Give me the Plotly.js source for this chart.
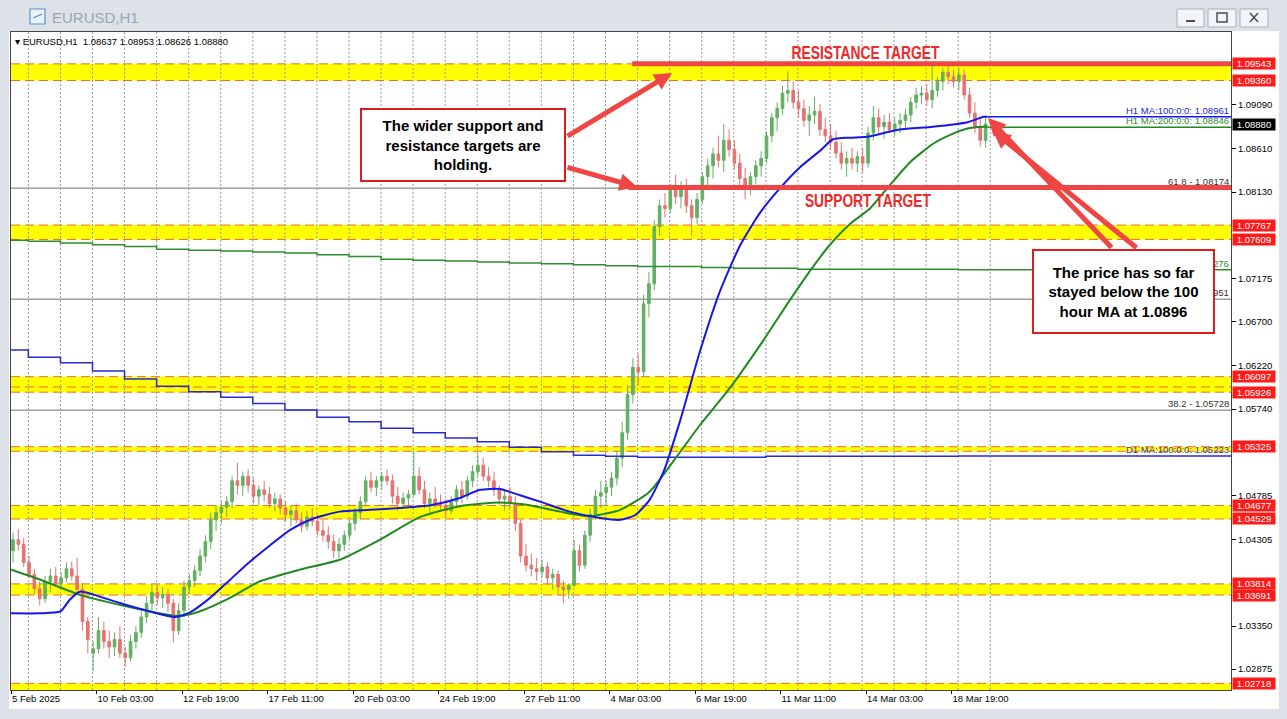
<!DOCTYPE html>
<html><head><meta charset="utf-8">
<script src="https://cdn.plot.ly/plotly-3.0.1.min.js"></script>
<style>html,body{margin:0;padding:0;background:#dde2e9;overflow:hidden}#chart{width:1287px;height:719px}</style>
</head><body><div id="chart"></div>
<script>
// ---------------- DATA ----------------
const symbolTitle = 'EURUSD,H1';
const lastBar = {open:1.08637, high:1.08953, low:1.08626, close:1.08880};

// 4-hour candles (bar index = hours since 5 Feb 11:00, weekends removed)
const candleOpen = [1.0418,1.0430,1.0425,
1.0405,1.0392,1.0376,1.0365,1.0384,1.0390,
1.0382,1.0388,1.0398,1.0390,1.0375,1.0340,
1.0305,1.0310,1.0330,1.0318,1.0312,1.0320,
1.0305,1.0300,1.0318,1.0328,1.0345,1.0360,
1.0372,1.0366,1.0370,1.0360,1.0330,1.0352,
1.0378,1.0385,1.0396,1.0412,1.0428,1.0452,
1.0460,1.0466,1.0472,1.0495,1.0490,1.0500,
1.0490,1.0478,1.0485,1.0480,1.0470,1.0475,
1.0465,1.0458,1.0462,1.0452,1.0445,1.0455,
1.0450,1.0440,1.0435,1.0428,1.0418,1.0425,
1.0435,1.0448,1.0460,1.0472,1.0495,1.0488,
1.0495,1.0500,1.0495,1.0478,1.0470,1.0476,
1.0480,1.0500,1.0485,1.0470,1.0475,1.0470,
1.0468,1.0462,1.0472,1.0485,1.0478,1.0495,
1.0505,1.0512,1.0500,1.0495,1.0485,1.0475,
1.0478,1.0470,1.0448,1.0412,1.0402,1.0398,
1.0395,1.0400,1.0388,1.0392,1.0378,1.0375,
1.0380,1.0418,1.0402,1.0435,1.0458,1.0478,
1.0482,1.0488,1.0498,1.0520,1.0548,1.0590,
1.0620,1.0615,1.0690,1.0712,1.0775,1.0798,
1.0795,1.0815,1.0808,1.0820,1.0798,1.0785,
1.0805,1.0830,1.0842,1.0855,1.0848,1.0870,
1.0860,1.0845,1.0828,1.0818,1.0830,1.0842,
1.0850,1.0875,1.0895,1.0905,1.0922,1.0925,
1.0912,1.0905,1.0892,1.0898,1.0902,1.0882,
1.0875,1.0868,1.0856,1.0845,1.0850,1.0845,
1.0852,1.0845,1.0878,1.0895,1.0885,1.0890,
1.0882,1.0888,1.0892,1.0898,1.0912,1.0920,
1.0922,1.0915,1.0925,1.0935,1.0945,1.0940,
1.0935,1.0942,1.0920,1.0900,1.0885,1.0870];
const candleHigh = [1.0438,1.0442,1.0432,
1.0412,1.0398,1.0384,1.0390,1.0398,1.0400,
1.0394,1.0405,1.0406,1.0410,1.0382,1.0345,
1.0318,1.0345,1.0340,1.0330,1.0328,1.0335,
1.0312,1.0325,1.0335,1.0352,1.0368,1.0382,
1.0380,1.0378,1.0376,1.0365,1.0360,1.0385,
1.0392,1.0402,1.0420,1.0435,1.0460,1.0468,
1.0472,1.0478,1.0500,1.0515,1.0505,1.0508,
1.0498,1.0490,1.0495,1.0488,1.0482,1.0480,
1.0472,1.0468,1.0470,1.0460,1.0462,1.0465,
1.0458,1.0452,1.0445,1.0436,1.0432,1.0440,
1.0452,1.0465,1.0478,1.0500,1.0505,1.0500,
1.0505,1.0508,1.0502,1.0488,1.0482,1.0485,
1.0528,1.0510,1.0495,1.0482,1.0488,1.0480,
1.0475,1.0478,1.0490,1.0495,1.0500,1.0512,
1.0525,1.0520,1.0510,1.0505,1.0490,1.0485,
1.0488,1.0478,1.0452,1.0425,1.0415,1.0410,
1.0408,1.0405,1.0398,1.0396,1.0385,1.0382,
1.0430,1.0425,1.0440,1.0465,1.0485,1.0495,
1.0495,1.0505,1.0528,1.0560,1.0600,1.0630,
1.0635,1.0700,1.0725,1.0782,1.0805,1.0812,
1.0822,1.0832,1.0825,1.0828,1.0805,1.0812,
1.0835,1.0850,1.0862,1.0875,1.0888,1.0882,
1.0870,1.0855,1.0840,1.0835,1.0848,1.0858,
1.0880,1.0900,1.0912,1.0930,1.0946,1.0935,
1.0925,1.0915,1.0908,1.0918,1.0910,1.0895,
1.0888,1.0880,1.0868,1.0858,1.0862,1.0858,
1.0862,1.0885,1.0908,1.0905,1.0898,1.0900,
1.0895,1.0900,1.0905,1.0918,1.0928,1.0930,
1.0932,1.0954,1.0940,1.0950,1.0955,1.0948,
1.0950,1.0948,1.0928,1.0912,1.0895,1.0895];
const candleLow = [1.0405,1.0418,1.0400,
1.0388,1.0370,1.0358,1.0360,1.0372,1.0378,
1.0376,1.0383,1.0385,1.0370,1.0330,1.0305,
1.0285,1.0305,1.0310,1.0300,1.0302,1.0300,
1.0290,1.0296,1.0310,1.0322,1.0338,1.0352,
1.0358,1.0355,1.0350,1.0317,1.0325,1.0345,
1.0370,1.0378,1.0390,1.0405,1.0420,1.0440,
1.0448,1.0455,1.0465,1.0480,1.0478,1.0482,
1.0470,1.0468,1.0472,1.0465,1.0462,1.0458,
1.0450,1.0445,1.0448,1.0438,1.0440,1.0445,
1.0435,1.0428,1.0420,1.0410,1.0410,1.0418,
1.0430,1.0440,1.0452,1.0468,1.0482,1.0478,
1.0485,1.0490,1.0470,1.0462,1.0465,1.0468,
1.0478,1.0480,1.0465,1.0460,1.0465,1.0462,
1.0455,1.0458,1.0465,1.0470,1.0474,1.0488,
1.0500,1.0495,1.0488,1.0478,1.0468,1.0462,
1.0465,1.0440,1.0405,1.0395,1.0390,1.0385,
1.0388,1.0380,1.0375,1.0370,1.0360,1.0365,
1.0378,1.0395,1.0398,1.0428,1.0452,1.0465,
1.0468,1.0478,1.0490,1.0510,1.0540,1.0580,
1.0600,1.0610,1.0675,1.0705,1.0765,1.0785,
1.0790,1.0800,1.0795,1.0790,1.0765,1.0778,
1.0800,1.0818,1.0828,1.0840,1.0835,1.0852,
1.0838,1.0820,1.0805,1.0810,1.0822,1.0830,
1.0845,1.0868,1.0880,1.0898,1.0912,1.0905,
1.0895,1.0885,1.0875,1.0888,1.0875,1.0868,
1.0860,1.0850,1.0838,1.0830,1.0838,1.0835,
1.0835,1.0840,1.0870,1.0878,1.0872,1.0878,
1.0875,1.0878,1.0882,1.0890,1.0905,1.0910,
1.0908,1.0905,1.0918,1.0925,1.0932,1.0928,
1.0925,1.0915,1.0895,1.0878,1.0863,1.0862];
const candleClose = [1.0430,1.0425,1.0405,
1.0392,1.0376,1.0365,1.0384,1.0390,1.0382,
1.0388,1.0398,1.0390,1.0375,1.0340,1.0320,
1.0310,1.0330,1.0318,1.0312,1.0320,1.0305,
1.0300,1.0318,1.0328,1.0345,1.0360,1.0372,
1.0366,1.0370,1.0360,1.0330,1.0352,1.0378,
1.0385,1.0396,1.0412,1.0428,1.0452,1.0460,
1.0466,1.0472,1.0495,1.0490,1.0500,1.0490,
1.0478,1.0485,1.0480,1.0470,1.0475,1.0465,
1.0458,1.0462,1.0452,1.0445,1.0455,1.0450,
1.0440,1.0435,1.0428,1.0418,1.0425,1.0435,
1.0448,1.0460,1.0472,1.0495,1.0488,1.0495,
1.0500,1.0495,1.0478,1.0470,1.0476,1.0480,
1.0500,1.0485,1.0470,1.0475,1.0470,1.0468,
1.0462,1.0472,1.0485,1.0478,1.0495,1.0505,
1.0512,1.0500,1.0495,1.0485,1.0475,1.0478,
1.0470,1.0448,1.0412,1.0402,1.0398,1.0395,
1.0400,1.0388,1.0392,1.0378,1.0375,1.0380,
1.0418,1.0402,1.0435,1.0458,1.0478,1.0482,
1.0488,1.0498,1.0520,1.0548,1.0590,1.0620,
1.0615,1.0690,1.0712,1.0775,1.0798,1.0795,
1.0815,1.0808,1.0820,1.0798,1.0785,1.0805,
1.0830,1.0842,1.0855,1.0848,1.0870,1.0860,
1.0845,1.0828,1.0818,1.0830,1.0842,1.0850,
1.0875,1.0895,1.0905,1.0922,1.0925,1.0912,
1.0905,1.0892,1.0898,1.0902,1.0882,1.0875,
1.0868,1.0856,1.0845,1.0850,1.0845,1.0852,
1.0845,1.0878,1.0895,1.0885,1.0890,1.0882,
1.0888,1.0892,1.0898,1.0912,1.0920,1.0922,
1.0915,1.0925,1.0935,1.0945,1.0940,1.0935,
1.0942,1.0920,1.0900,1.0885,1.0870,1.0888];
const hoursPerCandle = 4;

// H1 moving averages (bar index, value)
const ma100Bars = [0,22,37,44,52,63,82,104,123,134,149,164,179,194,209,224,246,269,291,314,336,351,366,381,396,418,441,456,467,478,489,501,516,531,546,561,576,591,606,615,628,641,665,690,716,728,731];
const ma100Vals = [1.0349,1.0349,1.0351,1.0364,1.0373,1.0369,1.0360,1.0351,1.0345,1.0350,1.0366,1.0386,1.0406,1.0424,1.0441,1.0452,1.0461,1.0463,1.0465,1.0468,1.0476,1.0485,1.0486,1.0479,1.0472,1.0461,1.0454,1.0452,1.0457,1.0474,1.0507,1.0562,1.0639,1.0705,1.0755,1.0791,1.0818,1.0841,1.0859,1.0871,1.0873,1.0874,1.0882,1.0885,1.0890,1.0896,1.0896];
const ma200Bars = [0,22,52,82,104,126,141,164,186,216,246,276,306,336,366,388,411,433,456,478,501,516,538,561,583,598,613,628,643,658,673,690,703,716,728,731];
const ma200Vals = [1.0397,1.0386,1.0369,1.0358,1.0351,1.0346,1.0351,1.0366,1.0384,1.0397,1.0408,1.0430,1.0455,1.0467,1.0471,1.0468,1.0461,1.0456,1.0463,1.0483,1.0527,1.0557,1.0597,1.0645,1.0694,1.0726,1.0755,1.0778,1.0795,1.0821,1.0846,1.0866,1.0876,1.0883,1.0885,1.0885];
const ma100Last = 1.08961, ma200Last = 1.08846;

// Daily moving averages (stepped, one value per trading day)
const dayStartBars = [0,13,37,61,85,109,133,157,181,205,229,253,277,301,325,349,373,397,421,445,469,493,517,541,565,589,613,637,661,685,709,733];
const d1ma100Vals = [1.0639,1.0631,1.0625,1.0616,1.0607,1.0599,1.0593,1.0587,1.0580,1.0573,1.0565,1.0560,1.0553,1.0548,1.0542,1.0538,1.0532,1.0527,1.0523,1.0522,1.0521,1.0521,1.0521,1.0521,1.0522,1.0522,1.0522,1.0522,1.0522,1.0522,1.05223,1.05223];
const d1ma200Vals = [1.0760,1.0759,1.0757,1.0755,1.0753,1.0750,1.0749,1.0748,1.0747,1.0746,1.0744,1.0742,1.0739,1.0738,1.0737,1.0736,1.0735,1.0734,1.0733,1.0732,1.0731,1.0731,1.0730,1.0729,1.0729,1.0728,1.0728,1.0728,1.0728,1.0728,1.07276,1.07276];
const d1ma100Last = 1.05223, d1ma200Last = 1.07276;

// Fibonacci levels
const fibNames = ['61.8','50.0','38.2'];
const fibLevels = [1.08174,1.06951,1.05728];

// Support / resistance zones (yellow) and their marked levels
const zoneLow  = [1.09360,1.07609,1.05926,1.05275,1.04529,1.03691,1.02500];
const zoneHigh = [1.09543,1.07767,1.06097,1.05325,1.04677,1.03814,1.02718];
const dashedLevels = [1.09543,1.09360,1.07767,1.07609,1.06097,1.05983,1.05926,1.05325,1.05275,1.04677,1.04529,1.03814,1.03691,1.02718];
const taggedLevels = [1.09543,1.09360,1.07767,1.07609,1.06097,1.05926,1.05325,1.04677,1.04529,1.03814,1.03691,1.02718];
const resistanceLevel = 1.09543, supportLevel = 1.08180;

// Axes
const priceTicks = [1.09090,1.08610,1.08130,1.07175,1.06700,1.06220,1.05740,1.04785,1.04305,1.03350,1.02875];
const timeTickBars = [0,64,128,192,256,320,384,448,512,576,640,704];
const timeTickLabels = ['5 Feb 2025','10 Feb 03:00','12 Feb 19:00','17 Feb 11:00','20 Feb 03:00','24 Feb 19:00','27 Feb 11:00','4 Mar 03:00','6 Mar 19:00','11 Mar 11:00','14 Mar 03:00','18 Mar 19:00'];

// Notes
const note1 = 'The wider support and<br>resistance targets are<br>holding.';
const note2 = 'The price has so far<br>stayed below the 100<br>hour MA at 1.0896';

// ---------------- LAYOUT HELPERS ----------------
const FIG_W = 1287, FIG_H = 719;
const PL = 11, PR = 1231, PT = 32, PB = 690;
const X_RANGE = [0, 913.2];
const Y_RANGE = [1.02645, 1.09894];
const px = v => (v - PL) / (PR - PL);
const py = v => (PB - v) / (PB - PT);
const FONT = 'Liberation Sans, Arial, Helvetica, sans-serif';
const RED = '#f04545';

const candleX = candleOpen.map((_, i) => i * hoursPerCandle + 1.5);

const traces = [
  {type:'scatter', mode:'lines', x:dayStartBars, y:d1ma200Vals, line:{shape:'hv', color:'#2e8b2e', width:1.5}, hoverinfo:'skip'},
  {type:'scatter', mode:'lines', x:dayStartBars, y:d1ma100Vals, line:{shape:'hv', color:'#2b2bd0', width:1.5}, hoverinfo:'skip'},
  {type:'candlestick', x:candleX, open:candleOpen, high:candleHigh, low:candleLow, close:candleClose,
   increasing:{line:{color:'#62b062', width:1}, fillcolor:'#62b062'},
   decreasing:{line:{color:'#e67272', width:1}, fillcolor:'#e67272'},
   whiskerwidth:0, hoverinfo:'skip'},
  {type:'scatter', mode:'lines', x:ma200Bars, y:ma200Vals, line:{color:'#1f8a1f', width:2, shape:'spline', smoothing:0.6}, hoverinfo:'skip'},
  {type:'scatter', mode:'lines', x:ma100Bars, y:ma100Vals, line:{color:'#1717e8', width:2, shape:'spline', smoothing:0.6}, hoverinfo:'skip'}
];

const shapes = [];
shapes.push({type:'rect', xref:'paper', yref:'paper', x0:px(9), x1:px(1279), y0:py(709), y1:py(31), fillcolor:'#ffffff', line:{width:0}, layer:'below'});
[[1177,1204],[1208,1236],[1240,1268]].forEach(b => shapes.push({type:'rect', xref:'paper', yref:'paper', x0:px(b[0]), x1:px(b[1]), y0:py(27), y1:py(9), fillcolor:'#f2f4f7', line:{color:'#a8b0ba', width:1}, layer:'below'}));
shapes.push({type:'line', xref:'paper', yref:'paper', x0:px(1186), x1:px(1195), y0:py(21), y1:py(21), line:{color:'#4a4f55', width:2}});
shapes.push({type:'rect', xref:'paper', yref:'paper', x0:px(1217), x1:px(1227), y0:py(22), y1:py(13), line:{color:'#4a4f55', width:1.5}});
shapes.push({type:'line', xref:'paper', yref:'paper', x0:px(1250), x1:px(1258), y0:py(22), y1:py(13), line:{color:'#4a4f55', width:1.5}});
shapes.push({type:'line', xref:'paper', yref:'paper', x0:px(1250), x1:px(1258), y0:py(13), y1:py(22), line:{color:'#4a4f55', width:1.5}});
shapes.push({type:'rect', xref:'paper', yref:'paper', x0:px(30), x1:px(45), y0:py(24), y1:py(9), fillcolor:'#eaf2fb', line:{color:'#5b8fc9', width:1.2}});
shapes.push({type:'line', xref:'paper', yref:'paper', x0:px(33), x1:px(42), y0:py(18), y1:py(14), line:{color:'#5b8fc9', width:1.2}});
zoneLow.forEach((lo, i) => shapes.push({type:'rect', xref:'paper', yref:'y', x0:0, x1:1, y0:lo, y1:zoneHigh[i], fillcolor:'#ffff00', line:{width:0}, layer:'below'}));
dashedLevels.forEach(v => shapes.push({type:'line', xref:'paper', yref:'y', x0:0, x1:1, y0:v, y1:v, line:{color:'#ef6a2e', width:1, dash:'9px,5px'}, layer:'below'}));
fibLevels.forEach(v => shapes.push({type:'line', xref:'paper', yref:'y', x0:0, x1:1, y0:v, y1:v, line:{color:'#6e6e6e', width:1}, layer:'below'}));
for (let b = 13; b <= 733; b += 24) shapes.push({type:'line', xref:'x', yref:'paper', x0:b, x1:b, y0:0, y1:1, line:{color:'#9a9a9a', width:1, dash:'2px,2px'}, layer:'below'});
const lastBarIdx = ma100Bars[ma100Bars.length-1];
const lastDayIdx = dayStartBars[dayStartBars.length-1];
shapes.push({type:'line', xref:'x', yref:'y', x0:lastDayIdx, x1:X_RANGE[1], y0:d1ma200Last, y1:d1ma200Last, line:{color:'#2e8b2e', width:1.5}});
shapes.push({type:'line', xref:'x', yref:'y', x0:lastDayIdx, x1:X_RANGE[1], y0:d1ma100Last, y1:d1ma100Last, line:{color:'#2b2bd0', width:1.5}});
shapes.push({type:'line', xref:'x', yref:'y', x0:lastBarIdx, x1:X_RANGE[1], y0:ma200Last, y1:ma200Last, line:{color:'#1f8a1f', width:1.5}});
shapes.push({type:'line', xref:'x', yref:'y', x0:lastBarIdx, x1:X_RANGE[1], y0:ma100Last, y1:ma100Last, line:{color:'#1717e8', width:1.5}});
shapes.push({type:'line', xref:'x', yref:'y', x0:465, x1:X_RANGE[1], y0:resistanceLevel, y1:resistanceLevel, line:{color:RED, width:5}});
shapes.push({type:'line', xref:'x', yref:'y', x0:462, x1:X_RANGE[1], y0:supportLevel, y1:supportLevel, line:{color:RED, width:5}});

const ann = [];
ann.push({xref:'paper', yref:'paper', x:px(50), y:py(17), text:symbolTitle, showarrow:false, xanchor:'left', yanchor:'middle', font:{family:FONT, size:15, color:'#9aa5b0'}});
ann.push({xref:'paper', yref:'paper', x:px(13), y:py(41), showarrow:false, xanchor:'left', yanchor:'middle',
  text:'▾ ' + symbolTitle + '  ' + [lastBar.open,lastBar.high,lastBar.low,lastBar.close].map(v=>v.toFixed(5)).join(' '),
  font:{family:FONT, size:9.5, color:'#000'}});
const lineLabel = (txt, v, col) => ann.push({xref:'paper', yref:'y', x:px(1230), y:v, text:txt, showarrow:false, xanchor:'right', yanchor:'bottom', borderpad:0, font:{family:FONT, size:9.5, color:col}});
lineLabel('H1 MA:100:0:0: ' + ma100Last.toFixed(5), ma100Last, '#2424d8');
lineLabel('H1 MA:200:0:0: ' + ma200Last.toFixed(5), ma200Last, '#2a8a2a');
lineLabel('D1 MA:100:0:0: ' + d1ma100Last.toFixed(5), d1ma100Last, '#3434c8');
// these two labels are covered by the note box in the original; only their last digits show
lineLabel(d1ma200Last.toFixed(5).slice(-3), d1ma200Last, '#2a8a2a');
lineLabel(fibLevels[1].toFixed(5).slice(-3), fibLevels[1], '#333333');
lineLabel(fibNames[0] + ' - ' + fibLevels[0].toFixed(5), fibLevels[0], '#333333');
lineLabel(fibNames[2] + ' - ' + fibLevels[2].toFixed(5), fibLevels[2], '#333333');
const priceTag = (v, bg) => ann.push({xref:'paper', yref:'y', x:px(1232), y:v, text:v.toFixed(5), showarrow:false, xanchor:'left', yanchor:'middle', width:42, height:11, borderpad:0, bgcolor:bg, font:{family:FONT, size:9.5, color:'#ffffff'}});
taggedLevels.forEach(v => priceTag(v, '#ff1a1a'));
priceTag(lastBar.close, '#000000');
ann.push({xref:'paper', yref:'paper', x:px(463), y:py(145), xanchor:'center', yanchor:'middle', width:202, height:70, showarrow:false,
  text:'<b>' + note1 + '</b>', bgcolor:'#ffffff', bordercolor:'#e01b1b', borderwidth:2, borderpad:0, font:{family:FONT, size:15, color:'#000'}});
ann.push({xref:'paper', yref:'paper', x:px(1123.5), y:py(291.5), xanchor:'center', yanchor:'middle', width:179, height:81, showarrow:false,
  text:'<b>' + note2 + '</b>', bgcolor:'#ffffff', bordercolor:'#e01b1b', borderwidth:2, borderpad:0, font:{family:FONT, size:15, color:'#000'}});
const arrow = (hx, hy, tx, ty) => ann.push({xref:'paper', yref:'paper', x:px(hx), y:py(hy), ax:tx-hx, ay:ty-hy, axref:'pixel', ayref:'pixel', text:'', showarrow:true, arrowhead:2, arrowsize:0.7, arrowwidth:5, arrowcolor:RED, standoff:0, startstandoff:0});
arrow(672, 73, 566, 137);
arrow(637, 187, 566, 167);
arrow(988, 118, 1113, 249);
arrow(993, 131, 1138, 249);
const CAPTION_FONT = {family:FONT, size:19, color:'#ee2a2a'};
ann.push({xref:'paper', yref:'paper', x:px(865), y:py(53), text:'<b>RESISTANCE TARGET</b>', showarrow:false, xanchor:'center', yanchor:'middle', font:CAPTION_FONT});
ann.push({xref:'paper', yref:'paper', x:px(868), y:py(201), text:'<b>SUPPORT TARGET</b>', showarrow:false, xanchor:'center', yanchor:'middle', font:CAPTION_FONT});

const layout = {
  width:FIG_W, height:FIG_H,
  margin:{l:PL, r:FIG_W-PR, t:PT, b:FIG_H-PB, pad:0},
  paper_bgcolor:'#dde2e9', plot_bgcolor:'#ffffff',
  showlegend:false,
  font:{family:FONT, size:9.5, color:'#000'},
  xaxis:{range:X_RANGE, tickvals:timeTickBars, ticktext:timeTickLabels, ticks:'outside', ticklen:3, tickcolor:'#000',
    ticklabelposition:'outside right', showgrid:false, zeroline:false, showline:true, linecolor:'#444', mirror:true,
    rangeslider:{visible:false}, tickfont:{family:FONT, size:9.5, color:'#000'}, fixedrange:true},
  yaxis:{range:Y_RANGE, side:'right', tickvals:priceTicks, ticktext:priceTicks.map(v=>v.toFixed(5)), ticks:'outside', ticklen:4, tickcolor:'#000',
    showgrid:false, zeroline:false, showline:true, linecolor:'#444', mirror:true, tickfont:{family:FONT, size:9.5, color:'#000'}, fixedrange:true},
  shapes:shapes, annotations:ann
};

// condensed caption widths (the original uses a narrow heavy typeface)
const captionWidths = {'RESISTANCE TARGET':148, 'SUPPORT TARGET':126};
Plotly.newPlot('chart', traces, layout, {staticPlot:true, displayModeBar:false}).then(() => {
  document.querySelectorAll('#chart text.annotation-text').forEach(t => {
    const w = captionWidths[t.textContent.trim()];
    if (w) { t.setAttribute('textLength', w); t.setAttribute('lengthAdjust', 'spacingAndGlyphs'); }
  });
});
</script>
</body></html>
